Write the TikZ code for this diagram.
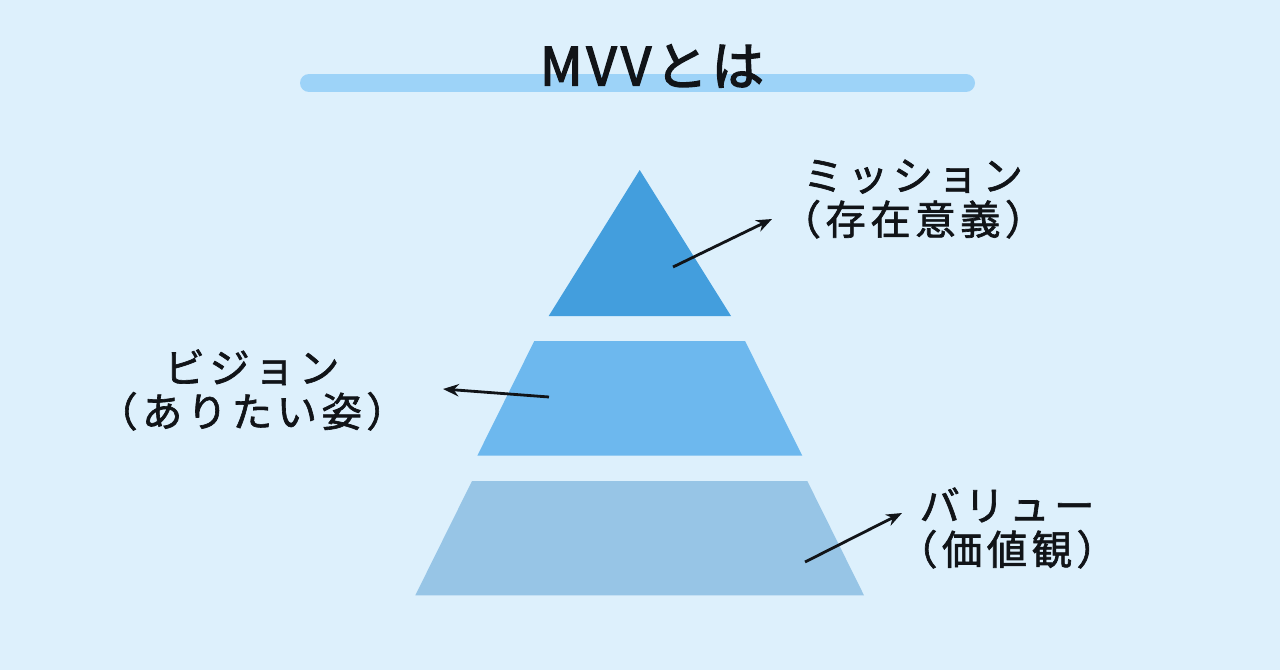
\documentclass[tikz,border=0pt]{standalone}
\usepackage{fontspec}
\setmainfont{Noto Sans CJK JP}
\newfontfamily\lblfont[LetterSpace=11,FakeBold=1.6]{Noto Sans CJK JP}
\newfontfamily\ttlfont[LetterSpace=7,FakeBold=2.6]{Noto Sans CJK JP}
\usetikzlibrary{arrows.meta}

\definecolor{bgblue}{HTML}{DDF0FC}
\definecolor{barblue}{HTML}{9DD3F8}
\definecolor{topblue}{HTML}{439EDD}
\definecolor{midblue}{HTML}{6DB8EE}
\definecolor{lowblue}{HTML}{97C5E6}
\definecolor{inkblack}{HTML}{111418}

\begin{document}
\begin{tikzpicture}[x=0.02cm,y=-0.02cm,
    lbl/.style={font=\lblfont\fontsize{23}{25}\selectfont,align=center,inner sep=0pt,text=inkblack},
    pointer/.style={-{Stealth[length=9pt,width=7pt]},line width=1.6pt,draw=inkblack}]
  \fill[bgblue] (0,0) rectangle (1280,670);
  \useasboundingbox (0,0) rectangle (1280,670);

  % title and bar
  \draw[barblue,line width=0.36cm,line cap=round] (309,83) -- (966,83);
  \node[font=\ttlfont\fontsize{30}{36}\selectfont,text=inkblack] (title) at (652,66) {MVVとは};

  % pyramid
  \fill[topblue] (639.7,170) -- (731,316) -- (548.7,316) -- cycle;
  \fill[midblue] (534.3,341) -- (745,341) -- (802.3,455.7) -- (477.3,455.7) -- cycle;
  \fill[lowblue] (472,481) -- (807.3,481) -- (864,595.3) -- (415.3,595.3) -- cycle;

  % labels
  \node[lbl] (mission) at (913,199) {ミッション\\（存在意義）};
  \node[lbl] (vision) at (252,390) {ビジョン\\（ありたい姿）};
  \node[lbl] (value) at (1007,528) {バリュー\\（価値観）};

  \coordinate (m0) at (673,267);
  \coordinate (m1) at (772,219);
  \coordinate (v0) at (549,397);
  \coordinate (v1) at (443,389);
  \coordinate (b0) at (805,562);
  \coordinate (b1) at (902,513);
  \draw[pointer] (m0) -- (m1);
  \draw[pointer] (v0) -- (v1);
  \draw[pointer] (b0) -- (b1);
\end{tikzpicture}
\end{document}
